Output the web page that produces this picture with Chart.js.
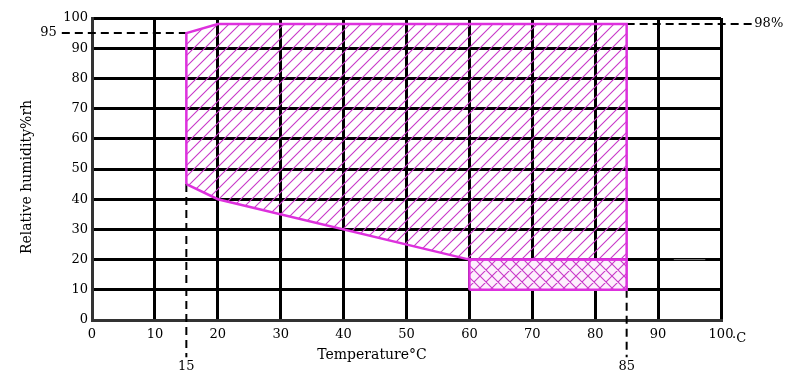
<!DOCTYPE html>
<html>
<head>
<meta charset="utf-8">
<script src="https://cdn.jsdelivr.net/npm/chart.js@4"></script>
<style>
  html, body { margin: 0; padding: 0; background: #fff; }
  #wrap { width: 797px; height: 376px; }
</style>
</head>
<body>
<div id="wrap"><canvas id="chart"></canvas></div>
<script>
// axis ticks
const tempTicks = [0, 10, 20, 30, 40, 50, 60, 70, 80, 90, 100];
const rhTicks = [0, 10, 20, 30, 40, 50, 60, 70, 80, 90, 100];

// working zone (diagonal hatch)
const zoneTemp = [15, 15, 20, 85, 85, 60, 20, 15];
const zoneRh   = [45, 95, 98, 98, 20, 20, 40, 45];

// low humidity zone (cross hatch)
const lowTemp = [60, 85, 85, 60, 60];
const lowRh   = [10, 10, 20, 20, 10];

// dashed guide lines
const guide95Temp = [-4.8, 15];
const guide95Rh   = [95, 95];
const guide98Temp = [85, 105];
const guide98Rh   = [98, 98];
const guide15Temp = [15, 15];
const guide15Rh   = [45, -12.3];
const guide85Temp = [85, 85];
const guide85Rh   = [10, -12.3];

// small grey mark near 20%
const markTemp = [92.5, 97.5];
const markRh   = [20, 20];

const FONT = "'DejaVu Serif', serif";
const MAGENTA = '#dd30dd';

function pts(xs, ys) {
    return xs.map((x, i) => ({ x: x, y: ys[i] }));
}

function hatch(size, cross, bg) {
    const c = document.createElement('canvas');
    c.width = size; c.height = size;
    const g = c.getContext('2d');
    if (bg) { g.fillStyle = bg; g.fillRect(0, 0, size, size); }
    g.strokeStyle = '#c838c8';
    g.lineWidth = 1.1;
    g.beginPath();
    g.moveTo(-1, size + 1); g.lineTo(size + 1, -1);
    g.moveTo(-1, 1); g.lineTo(1, -1);
    g.moveTo(size - 1, size + 1); g.lineTo(size + 1, size - 1);
    if (cross) {
        g.moveTo(-1, -1); g.lineTo(size + 1, size + 1);
        g.moveTo(size - 1, -1); g.lineTo(size + 1, 1);
        g.moveTo(-1, size - 1); g.lineTo(1, size + 1);
    }
    g.stroke();
    return g.createPattern(c, 'repeat');
}

function dashed(xs, ys) {
    return {
        data: pts(xs, ys),
        showLine: true,
        borderColor: '#000',
        borderWidth: 2,
        borderDash: [8, 5],
        pointRadius: 0,
        fill: false,
        clip: false
    };
}

const labelsPlugin = {
    id: 'labels',
    afterDraw(chart) {
        const ctx = chart.ctx;
        const x = chart.scales.x, y = chart.scales.y;
        ctx.save();
        ctx.fillStyle = '#000';
        ctx.font = '13px ' + FONT;
        ctx.textBaseline = 'middle';
        ctx.textAlign = 'right';
        ctx.fillText('95', x.getPixelForValue(-5.6), y.getPixelForValue(95));
        ctx.textAlign = 'left';
        ctx.fillText('98%', x.getPixelForValue(105.3), y.getPixelForValue(98));
        ctx.textAlign = 'center';
        ctx.fillText('15', x.getPixelForValue(15), 367);
        ctx.fillText('85', x.getPixelForValue(85), 367);
        ctx.textAlign = 'left';
        ctx.fillText('·C', x.getPixelForValue(100) + 11, 339);
        ctx.font = '14px ' + FONT;
        ctx.textAlign = 'center';
        ctx.fillText('Temperature°C', 372, 355);
        ctx.translate(27, 177);
        ctx.rotate(-Math.PI / 2);
        ctx.fillText('Relative humidity%rh', 0, 0);
        ctx.restore();
    }
};

new Chart(
    document.getElementById('chart'),
    {
    type: 'scatter',
    data: {
        datasets: [
        {
            data: pts(zoneTemp, zoneRh),
            showLine: true,
            borderColor: MAGENTA,
            borderWidth: 2.5,
            backgroundColor: hatch(11, false),
            fill: 'shape',
            pointRadius: 0,
            tension: 0
        },
        {
            data: pts(lowTemp, lowRh),
            showLine: true,
            borderColor: MAGENTA,
            borderWidth: 2.5,
            backgroundColor: hatch(12, true, '#fdf0fd'),
            fill: 'shape',
            pointRadius: 0,
            tension: 0
        },
        dashed(guide95Temp, guide95Rh),
        dashed(guide98Temp, guide98Rh),
        dashed(guide15Temp, guide15Rh),
        dashed(guide85Temp, guide85Rh),
        {
            data: pts(markTemp, markRh),
            showLine: true,
            borderColor: '#777',
            borderWidth: 1,
            pointRadius: 0,
            fill: false
        }
        ]
    },
    options: {
        responsive: true,
        maintainAspectRatio: false,
        animation: false,
        layout: { padding: { left: 0, top: 18, right: 76, bottom: 0 } },
        plugins: {
            legend: { display: false },
            tooltip: { enabled: false }
        },
        scales: {
            x: {
                type: 'linear',
                min: 0,
                max: 100,
                afterFit(scale) { scale.height = 56; },
                afterBuildTicks(scale) { scale.ticks = tempTicks.map(v => ({ value: v })); },
                grid: { color: '#000', lineWidth: 3, drawTicks: false },
                border: { color: '#333', width: 3 },
                ticks: { color: '#000', padding: 7, maxRotation: 0, font: { family: FONT, size: 13 } }
            },
            y: {
                type: 'linear',
                min: 0,
                max: 100,
                afterFit(scale) { scale.width = 92; },
                afterBuildTicks(scale) { scale.ticks = rhTicks.map(v => ({ value: v })); },
                grid: { color: '#000', lineWidth: 3, drawTicks: false },
                border: { color: '#333', width: 3 },
                ticks: { color: '#000', padding: 4, font: { family: FONT, size: 13 } }
            }
        }
    },
    plugins: [labelsPlugin]
    }
);
</script>
</body>
</html>
